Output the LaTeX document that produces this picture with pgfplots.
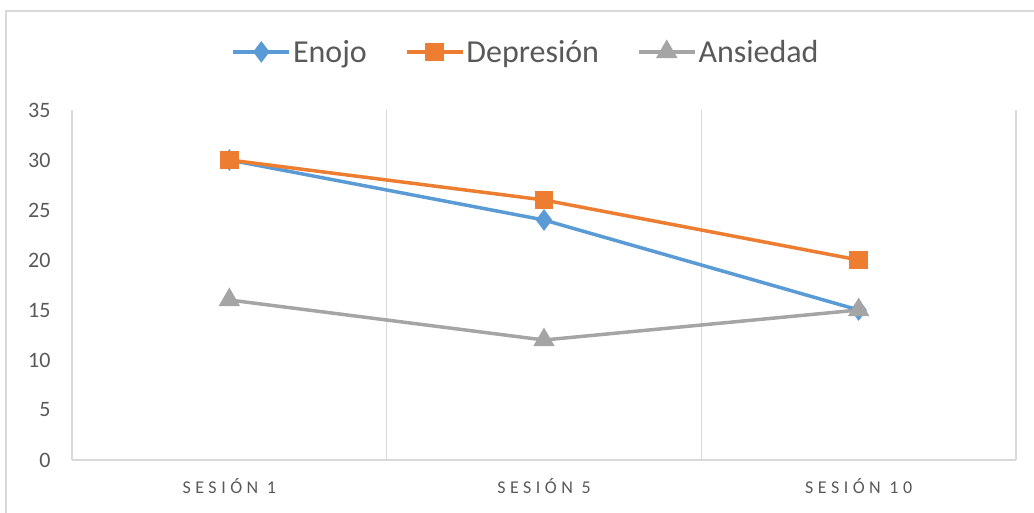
\documentclass[border=0pt]{standalone}
\usepackage{pgfplots}
\pgfplotsset{compat=1.18}
\usepackage{fontspec}
\setmainfont{Carlito}
\newfontfamily\catfont[LetterSpace=25]{Carlito}

\definecolor{enojo}{RGB}{91,155,213}
\definecolor{depresion}{RGB}{237,125,49}
\definecolor{ansiedad}{RGB}{165,165,165}
\definecolor{txt}{RGB}{89,89,89}
\definecolor{gridc}{RGB}{217,217,217}

\begin{document}
\begin{tikzpicture}
\path[use as bounding box] (0,0) rectangle (1034bp,513bp);
\draw[gridc, line width=1.5bp] (6bp,-10bp) -- (6bp,502bp) -- (1050bp,502bp);
\begin{axis}[
    at={(72bp,53bp)}, anchor=south west,
    scale only axis,
    width=944bp, height=350bp,
    xmin=-0.5, xmax=2.5,
    ymin=0, ymax=35,
    xtick={0,1,2},
    xticklabels={SESIÓN 1, SESIÓN 5, SESIÓN 10},
    x tick label style={font=\catfont\fontsize{18bp}{20bp}\selectfont, text=txt, yshift=-15bp},
    ytick={0,5,...,35},
    y tick label style={font=\fontsize{22bp}{24bp}\selectfont, text=txt, xshift=-18bp},
    /pgf/number format/assume math mode=true,
    minor xtick={-0.5,0.5,1.5,2.5},
    xminorgrids,
    minor grid style={gridc, line width=1.2bp},
    major tick length=0pt, minor tick length=0pt,
    axis line style={draw=none},
    clip=false,
    legend columns=3,
    legend style={at={(0.481,1.166)}, anchor=center, draw=none,
        font=\fontsize{32bp}{34bp}\selectfont, text=txt,
        /tikz/every even column/.append style={column sep=36bp}},
    legend cell align=left,
    legend image code/.code={
        \draw[mark repeat=2, mark phase=2] plot coordinates {(0bp,0bp) (28bp,0bp) (56bp,0bp)};
    },
]
\draw[gridc, line width=1.5bp] (rel axis cs:0,0) -- (rel axis cs:1,0);
\addplot[enojo, line width=3.5bp, mark=diamond*, mark size=8bp, mark options={solid}] coordinates {(0,30) (1,24) (2,15)};
\addlegendentry{Enojo}
\addplot[depresion, line width=3.5bp, mark=square*, mark size=7.5bp] coordinates {(0,30) (1,26) (2,20)};
\addlegendentry{Depresión}
\addplot[ansiedad, line width=3.5bp, mark=triangle*, mark size=9bp] coordinates {(0,16) (1,12) (2,15)};
\addlegendentry{Ansiedad}
\end{axis}
\end{tikzpicture}
\end{document}
